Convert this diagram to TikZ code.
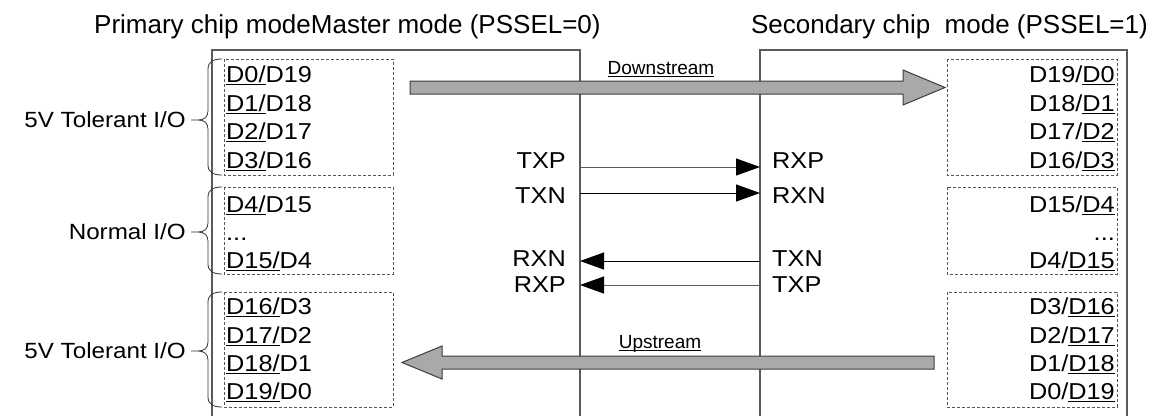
\documentclass[tikz,border=0pt]{standalone}
\usepackage{fontspec}
\setmainfont{Liberation Sans}
\newfontfamily\widefam[FakeStretch=1.1]{Liberation Sans}
\usetikzlibrary{arrows.meta}
\definecolor{chipline}{HTML}{5A5A5A}
\definecolor{dashline}{HTML}{555555}
\definecolor{blkfill}{HTML}{A9A9A9}
\definecolor{blkline}{HTML}{3C3C3C}
\newcommand{\myul}[1]{\setbox0\hbox{#1}\rlap{\rule[-3.4pt]{\wd0}{1.8pt}}\box0}
\newcommand{\bodyf}{\widefam\fontsize{23}{27}\selectfont}
\newcommand{\grpf}{\widefam\fontsize{22}{26}\selectfont}
\newcommand{\titlef}{\fontsize{26}{30}\selectfont}
\newcommand{\smallf}{\fontsize{19}{22}\selectfont}
\newcommand{\mybrace}[3]{%
  \draw[brc] (222,#1) .. controls (213,#1) and (208,{#1+3}) .. (208,{#1+10})
    -- (208,{#3-9}) .. controls (208,{#3-3}) and (204,#3) .. (198,#3) -- (191,#3) -- (198,#3)
    .. controls (204,#3) and (208,{#3+3}) .. (208,{#3+9})
    -- (208,{#2-10}) .. controls (208,{#2-3}) and (213,#2) .. (222,#2);}
\begin{document}
\begin{tikzpicture}[x=1pt,y=-1pt,
  chip/.style={draw=chipline,line width=1.3pt},
  dbox/.style={draw=dashline,line width=0.9pt,dash pattern=on 3pt off 2pt},
  brc/.style={draw=black!80,line width=0.8pt},
  row/.style={inner sep=0pt,font=\bodyf},
  pin/.style={inner sep=0pt,font=\bodyf},
  grp/.style={inner sep=0pt,font=\grpf,anchor=east},
  ttl/.style={inner sep=0pt,font=\titlef},
  flow/.style={inner sep=0pt,font=\smallf,anchor=base},
  blk/.style={fill=blkfill,draw=blkline,line width=1pt,line join=miter},
  sig/.style={line width=1pt,-{Triangle[length=24pt,width=17pt,color=black]}}]
\useasboundingbox (0,0) rectangle (1155,415);

% titles
\node[ttl,anchor=base west] (t1) at (94,33) {Primary chip modeMaster mode (PSSEL=0)};
\node[ttl,anchor=base east] (t2) at (1148,33) {Secondary chip\ \ mode (PSSEL=1)};

% chip outlines
\draw[chip] (212,416) -- (212,50) -- (580,50) -- (580,416);
\draw[chip] (760,416) -- (760,50) -- (1127,50) -- (1127,416);

% dashed groups
\draw[dbox] (224,59) rectangle (393,175);
\draw[dbox] (224,187) rectangle (393,274);
\draw[dbox] (224,292) rectangle (393,407);
\draw[dbox] (947,59) rectangle (1117,175);
\draw[dbox] (947,187) rectangle (1117,274);
\draw[dbox] (947,292) rectangle (1117,407);

% braces and group labels
\mybrace{59}{175}{120}
\mybrace{187}{274}{232}
\mybrace{292}{407}{351}
\node[grp] (g1) at (186,120) {5V Tolerant I/O};
\node[grp] (g2) at (186,232) {Normal I/O};
\node[grp] (g3) at (186,351) {5V Tolerant I/O};

% left rows
\node[row,anchor=base west] (l0) at (226,82) {\myul{D0/}D19};
\node[row,anchor=base west] (l1) at (226,111) {\myul{D1/}D18};
\node[row,anchor=base west] (l2) at (226,139) {\myul{D2/}D17};
\node[row,anchor=base west] (l3) at (226,168) {\myul{D3/}D16};
\node[row,anchor=base west] (l4) at (226,212) {\myul{D4/}D15};
\node[row,anchor=base west] (l5) at (226,240) {...};
\node[row,anchor=base west] (l6) at (226,268) {\myul{D15/}D4};
\node[row,anchor=base west] (l7) at (226,314) {\myul{D16/}D3};
\node[row,anchor=base west] (l8) at (226,343) {\myul{D17/}D2};
\node[row,anchor=base west] (l9) at (226,371) {\myul{D18/}D1};
\node[row,anchor=base west] (l10) at (226,399) {\myul{D19/}D0};

% right rows
\node[row,anchor=base east] (r0) at (1115,82) {D19/\myul{D0}};
\node[row,anchor=base east] (r1) at (1115,111) {D18/\myul{D1}};
\node[row,anchor=base east] (r2) at (1115,139) {D17/\myul{D2}};
\node[row,anchor=base east] (r3) at (1115,168) {D16/\myul{D3}};
\node[row,anchor=base east] (r4) at (1115,212) {D15/\myul{D4}};
\node[row,anchor=base east] (r5) at (1115,240) {...};
\node[row,anchor=base east] (r6) at (1115,268) {D4/\myul{D15}};
\node[row,anchor=base east] (r7) at (1115,314) {D3/\myul{D16}};
\node[row,anchor=base east] (r8) at (1115,343) {D2/\myul{D17}};
\node[row,anchor=base east] (r9) at (1115,371) {D1/\myul{D18}};
\node[row,anchor=base east] (r10) at (1115,399) {D0/\myul{D19}};

% block arrows
\coordinate (dsStart) at (410,87.5);
\coordinate (dsTip) at (945,87.5);
\draw[blk] (dsStart) ++(0,-6.5) -- (903,81) -- (903,70) -- (dsTip) -- (903,105) -- (903,94) -- (410,94) -- cycle;
\node[flow] (dsl) at (661,74) {\myul{Downstream}};

\coordinate (usStart) at (934,362.5);
\coordinate (usTip) at (402,362.5);
\draw[blk] (usStart) ++(0,-6.5) -- (442,356) -- (442,346) -- (usTip) -- (442,379) -- (442,369) -- (934,369) -- cycle;
\node[flow] (usl) at (660,348) {\myul{Upstream}};

% pin labels
\node[pin,anchor=east] (ltxp) at (566,161) {TXP};
\node[pin,anchor=east] (ltxn) at (566,196) {TXN};
\node[pin,anchor=east] (lrxn) at (566,259) {RXN};
\node[pin,anchor=east] (lrxp) at (566,285) {RXP};
\node[pin,anchor=west] (rrxp) at (772,161) {RXP};
\node[pin,anchor=west] (rrxn) at (772,196) {RXN};
\node[pin,anchor=west] (rtxn) at (772,259) {TXN};
\node[pin,anchor=west] (rtxp) at (772,285) {TXP};

\coordinate (a1) at (580,167);
\coordinate (b1) at (760,167);
\coordinate (a2) at (580,193);
\coordinate (b2) at (760,193);
\coordinate (a3) at (580,261);
\coordinate (b3) at (760,261);
\coordinate (a4) at (580,285);
\coordinate (b4) at (760,285);
\draw[sig,draw=black!65] (a1) -- (b1);
\draw[sig,draw=black] (a2) -- (b2);
\draw[sig,draw=black] (b3) -- (a3);
\draw[sig,draw=black!65] (b4) -- (a4);
\end{tikzpicture}
\end{document}
